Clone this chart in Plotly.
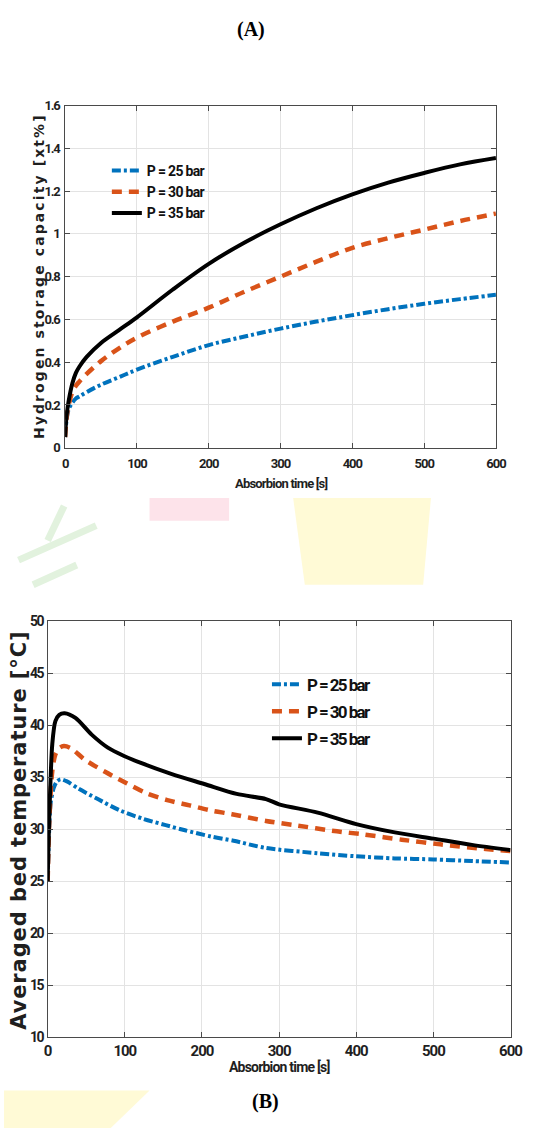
import plotly.graph_objects as go

# ---------------- Data (A): hydrogen storage capacity vs absorption time [s] ----------------
t_a = [0, 2, 5, 10, 15, 20, 30, 50, 75, 100, 150, 200, 250, 300, 350, 400, 450, 500, 550, 600]
cap_25 = [0.05, 0.13, 0.18, 0.21, 0.23, 0.24, 0.26, 0.295, 0.33, 0.365, 0.425, 0.48, 0.52, 0.557, 0.59, 0.62, 0.648, 0.673, 0.695, 0.715]
cap_30 = [0.05, 0.14, 0.20, 0.26, 0.29, 0.31, 0.345, 0.405, 0.465, 0.515, 0.59, 0.655, 0.73, 0.80, 0.87, 0.935, 0.98, 1.02, 1.06, 1.095]
cap_35 = [0.05, 0.15, 0.22, 0.30, 0.35, 0.38, 0.425, 0.49, 0.55, 0.61, 0.74, 0.86, 0.96, 1.045, 1.12, 1.185, 1.24, 1.285, 1.325, 1.355]

# ---------------- Data (B): averaged bed temperature [°C] vs absorption time [s] ----------------
t_b25 = [0, 2, 4, 8, 12, 17, 25, 40, 65, 94, 124, 153, 178, 212, 241, 283, 350, 400, 450, 500, 550, 600]
temp_25 = [25, 30.0, 32.6, 34.0, 34.6, 34.8, 34.6, 33.9, 32.9, 31.8, 31.0, 30.4, 29.9, 29.3, 28.9, 28.2, 27.7, 27.4, 27.2, 27.1, 26.95, 26.8]
t_b30 = [0, 2, 6, 10, 15, 21, 30, 48, 75, 103, 127, 155, 184, 212, 239, 283, 320, 375, 410, 459, 509, 568, 600]
temp_30 = [25, 30.5, 35.6, 37.2, 37.8, 38.0, 37.8, 36.7, 35.5, 34.4, 33.5, 32.8, 32.3, 31.8, 31.45, 30.8, 30.4, 29.8, 29.5, 29.0, 28.55, 28.1, 27.9]
t_b35 = [0, 2, 6, 10, 15, 22, 36, 57, 78, 99, 120, 161, 203, 245, 283, 300, 350, 400, 450, 500, 550, 600]
temp_35 = [25, 30.9, 38.2, 40.4, 41.0, 41.15, 40.7, 39.1, 37.85, 37.05, 36.4, 35.3, 34.35, 33.4, 32.9, 32.4, 31.6, 30.5, 29.7, 29.1, 28.5, 28.0]

series_names = ["P = 25 bar", "P = 30 bar", "P = 35 bar"]
colors = ["#0072BD", "#D95319", "#000000"]
dashes = ["9px,3px,3px,3px", "10px,7px", "solid"]
widths = [4, 4.5, 4]

x_ticks = [0, 100, 200, 300, 400, 500, 600]
x_tick_labels = ["0", "100", "200", "300", "400", "500", "600"]
ya_ticks = [0, 0.2, 0.4, 0.6, 0.8, 1.0, 1.2, 1.4, 1.6]
ya_tick_labels = ["0", "0.2", "0.4", "0.6", "0.8", "1", "1.2", "1.4", "1.6"]
yb_ticks = [10, 15, 20, 25, 30, 35, 40, 45, 50]
yb_tick_labels = ["10", "15", "20", "25", "30", "35", "40", "45", "50"]

W, H = 539, 1136


def px(x):  # page pixel -> paper x
    return x / W


def py(y):  # page pixel -> paper y
    return 1 - y / H


def tight(s, sp):
    return f'<span style="letter-spacing:{sp}px">{s}</span>'


SANS = "Roboto, Lato, Liberation Sans, sans-serif"
WIDE = "DejaVu Sans, Verdana, sans-serif"
INK = "#1f1f1f"

fig = go.Figure()

for i, (name, ys, c, d, w) in enumerate(zip(series_names, [cap_25, cap_30, cap_35], colors, dashes, widths)):
    fig.add_trace(go.Scatter(x=t_a, y=ys, mode="lines", name=tight(name, -0.7),
                             legendgroup=f"a{i}",
                             line=dict(color=c, dash=d, width=w, shape="spline", smoothing=1.0),
                             xaxis="x", yaxis="y", legend="legend"))

for i, (name, xs, ys, c, d, w) in enumerate(zip(series_names, [t_b25, t_b30, t_b35],
                                                [temp_25, temp_30, temp_35], colors, dashes, widths)):
    fig.add_trace(go.Scatter(x=xs, y=ys, mode="lines", name=tight(name, -1.6),
                             legendgroup=f"b{i}",
                             line=dict(color=c, dash=d, width=w, shape="spline", smoothing=0.8),
                             xaxis="x2", yaxis="y2", legend="legend2"))

axis_common = dict(showline=True, linecolor="#4a4a4a", linewidth=1, mirror="ticks",
                   ticks="inside", ticklen=5, tickcolor="#4a4a4a",
                   showgrid=True, gridcolor="#e3e3e3", gridwidth=1, zeroline=False)

fig.update_layout(
    width=W, height=H,
    margin=dict(l=0, r=0, t=0, b=0),
    paper_bgcolor="white", plot_bgcolor="white",
    xaxis=dict(domain=[px(63), px(507)], anchor="y", range=[0, 600],
               tickvals=x_ticks, ticktext=[tight(s, -1) for s in x_tick_labels],
               ticklabelstandoff=4,
               tickfont=dict(family=SANS, size=13, color=INK, weight="bold"), **axis_common),
    yaxis=dict(domain=[py(446), py(99)], anchor="x", range=[0, 1.6],
               tickvals=ya_ticks, ticktext=[tight(s, -1.2) for s in ya_tick_labels],
               ticklabelstandoff=2,
               tickfont=dict(family=SANS, size=13, color=INK, weight="bold"), **axis_common),
    xaxis2=dict(domain=[px(45), px(522)], anchor="y2", range=[0, 600],
                tickvals=x_ticks, ticktext=[tight(s, -1) for s in x_tick_labels],
                ticklabelstandoff=0,
                tickfont=dict(family=SANS, size=15, color=INK, weight="bold"), **axis_common),
    yaxis2=dict(domain=[py(1044), py(622)], anchor="x2", range=[10, 50],
                tickvals=yb_ticks, ticktext=[tight(s, -1.6) for s in yb_tick_labels],
                ticklabelstandoff=1,
                tickfont=dict(family=SANS, size=14, color=INK, weight="bold"), **axis_common),
    legend=dict(x=px(106), y=py(149), xanchor="left", yanchor="top",
                bgcolor="rgba(255,255,255,0)", borderwidth=0,
                font=dict(family=SANS, size=14, color="#111", weight="bold"),
                tracegroupgap=0),
    legend2=dict(x=px(271), y=py(668), xanchor="left", yanchor="top",
                 bgcolor="rgba(255,255,255,0)", borderwidth=0,
                 font=dict(family=SANS, size=17, color="#111", weight="bold"),
                 tracegroupgap=2),
    showlegend=True,
)

# Faint background watermark patches seen in the reference
fig.add_shape(type="rect", xref="paper", yref="paper", x0=px(150), x1=px(232),
              y0=py(520), y1=py(497), fillcolor="#fde3ea", line_width=0, layer="below")
fig.add_shape(type="path", xref="paper", yref="paper",
              path=f"M {px(298)} {py(497)} L {px(440)} {py(497)} L {px(432)} {py(585)} L {px(310)} {py(585)} Z",
              fillcolor="#fffad6", line_width=0, layer="below")
fig.add_shape(type="path", xref="paper", yref="paper",
              path=f"M {px(0)} {py(1098)} L {px(150)} {py(1098)} L {px(110)} {py(1136)} L {px(0)} {py(1136)} Z",
              fillcolor="#fffad6", line_width=0, layer="below")
for (xa, ya, xb, yb) in [(15, 560, 95, 525), (30, 585, 75, 565), (45, 540, 62, 505)]:
    fig.add_shape(type="line", xref="paper", yref="paper", x0=px(xa), y0=py(ya), x1=px(xb), y1=py(yb),
                  line=dict(color="#e2f2de", width=7), layer="below")

# Axis titles
fig.add_annotation(text=tight("Absorbion time [s]", -0.8), xref="paper", yref="paper",
                   x=px(285), y=py(482), xanchor="center", yanchor="middle", showarrow=False,
                   font=dict(family=SANS, size=13, color=INK, weight="bold"))
fig.add_annotation(text=tight("Hydrogen storage capacity [xt%]", 2.1),
                   xref="paper", yref="paper",
                   x=px(36), y=py(272), xanchor="center", yanchor="middle", showarrow=False, textangle=-90,
                   font=dict(family=WIDE, size=14, color=INK, weight="bold"))
fig.add_annotation(text=tight("Absorbion time [s]", -0.8), xref="paper", yref="paper",
                   x=px(284), y=py(1074), xanchor="center", yanchor="middle", showarrow=False,
                   font=dict(family=SANS, size=14, color=INK, weight="bold"))
fig.add_annotation(text=tight("Averaged bed temperature [°C]", 0.9),
                   xref="paper", yref="paper",
                   x=px(16), y=py(834), xanchor="center", yanchor="middle", showarrow=False, textangle=-90,
                   font=dict(family=WIDE, size=21, color=INK, weight="bold"))

# Panel labels
fig.add_annotation(text="<b>(A)</b>", xref="paper", yref="paper", x=px(255), y=py(22),
                   xanchor="center", yanchor="middle", showarrow=False,
                   font=dict(family="Liberation Serif, Times New Roman, serif", size=20, color="black"))
fig.add_annotation(text="<b>(B)</b>", xref="paper", yref="paper", x=px(270), y=py(1109),
                   xanchor="center", yanchor="middle", showarrow=False,
                   font=dict(family="Liberation Serif, Times New Roman, serif", size=20, color="black"))

fig.write_html("out.html")
